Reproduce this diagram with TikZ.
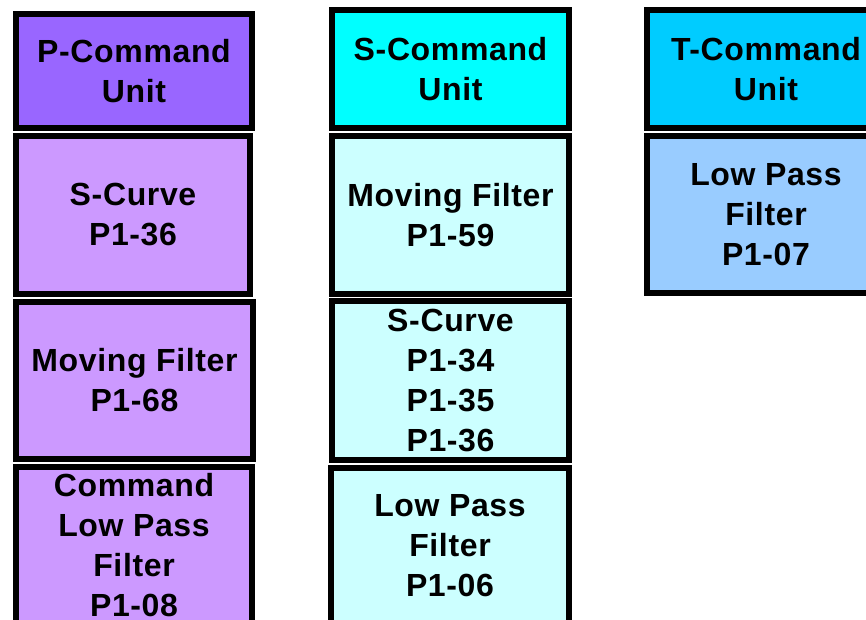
\documentclass[tikz,border=0pt]{standalone}
\usepackage{fontspec}
\setmainfont{Liberation Sans}[LetterSpace=2]
\definecolor{phead}{HTML}{9966FF}
\definecolor{pbox}{HTML}{CC99FF}
\definecolor{shead}{HTML}{00FFFF}
\definecolor{sbox}{HTML}{CCFFFF}
\definecolor{thead}{HTML}{00CCFF}
\definecolor{tbox}{HTML}{99CCFF}
\begin{document}
\begin{tikzpicture}[x=1pt,y=-1pt,
  blk/.style={draw=black,line width=6pt,rectangle,inner sep=0pt,outer sep=0pt,
    align=center,font=\fontsize{32}{40}\selectfont\bfseries},
]
\useasboundingbox (0,0) rectangle (866,620);
\clip (0,0) rectangle (866,620);
% P column
\node[blk,fill=phead,minimum width=236pt,minimum height=114pt] (ph) at (134,71) {P-Command\\Unit};
\node[blk,fill=pbox,minimum width=234pt,minimum height=158pt] (p1) at (133,215) {S-Curve\\P1-36};
\node[blk,fill=pbox,minimum width=237pt,minimum height=157pt] (p2) at (134.5,380.5) {Moving Filter\\P1-68};
\node[blk,fill=pbox,minimum width=236pt,minimum height=156pt] (p3) at (134,545) {Command\\Low Pass\\Filter\\P1-08};
% S column
\node[blk,fill=shead,minimum width=237pt,minimum height=118pt] (sh) at (450.5,69) {S-Command\\Unit};
\node[blk,fill=sbox,minimum width=237pt,minimum height=158pt] (s1) at (450.5,215) {Moving Filter\\P1-59};
\node[blk,fill=sbox,minimum width=237pt,minimum height=159pt] (s2) at (450.5,380.5) {S-Curve\\P1-34\\P1-35\\P1-36};
\node[blk,fill=sbox,minimum width=238pt,minimum height=155pt] (s3) at (450,545.5) {Low Pass\\Filter\\P1-06};
% T column
\node[blk,fill=thead,minimum width=238pt,minimum height=118pt] (th) at (766,69) {T-Command\\Unit};
\node[blk,fill=tbox,minimum width=238pt,minimum height=157pt] (t1) at (766,214.5) {Low Pass\\Filter\\P1-07};
\end{tikzpicture}
\end{document}
